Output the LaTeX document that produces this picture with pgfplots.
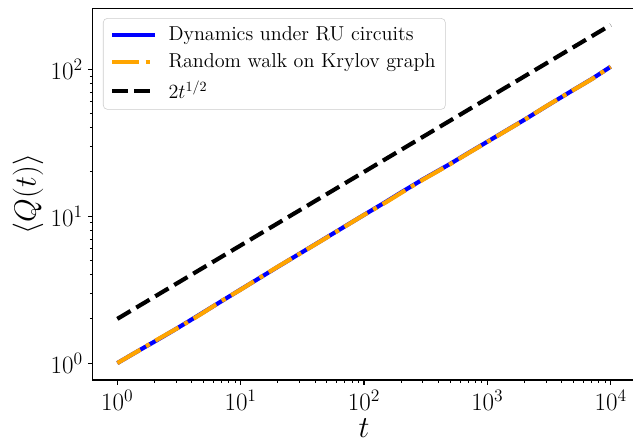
\RequirePackage{fix-cm}
\documentclass[border=0pt]{standalone}
\usepackage{pgfplots}
\pgfplotsset{compat=1.18}
\definecolor{mplblue}{rgb}{0,0,1}
\definecolor{mplorange}{rgb}{1,0.647,0}

\pgfplotstableread{
t Q
1 1.00
1.5 1.22
2 1.40
3 1.71
4 1.98
5 2.22
7 2.64
10 3.17
15 3.90
20 4.52
30 5.55
50 7.18
70 8.52
100 10.2
150 12.5
200 14.5
300 17.8
400 20.4
500 22.7
700 26.9
1000 32.1
1500 39.3
2000 45.3
3000 55.9
5000 72.4
7000 85.6
10000 104
}\circuit

\pgfplotstableread{
t Q
1 1.00
1.5 1.22
2 1.41
3 1.71
4 1.97
5 2.21
7 2.65
10 3.16
15 3.91
20 4.53
30 5.54
50 7.16
70 8.50
100 10.2
150 12.4
200 14.4
300 17.7
400 20.3
500 22.6
700 26.8
1000 32.0
1500 39.2
2000 45.2
3000 56.0
5000 72.3
7000 85.4
10000 104
}\walk

\pgfplotstableread{
t Q
1 2
10 6.325
100 20
1000 63.25
10000 200
}\guide

\begin{document}
\begin{tikzpicture}
\begin{axis}[
    at={(0,0)}, anchor=south west,
    scale only axis,
    width=390.7pt, height=267.8pt,
    xmode=log, ymode=log,
    xmin=0.631, xmax=15849,
    ymin=0.767, ymax=260.6,
    xtick={1,10,100,1000,10000},
    ytick={1,10,100},
    tick align=outside, tick pos=left,
    major tick length=3.5pt, minor tick length=2pt,
    every tick/.style={black, line width=0.8pt},
    every minor tick/.style={black, line width=0.6pt},
    axis line style={line width=0.8pt},
    tick label style={font=\fontsize{18}{20}\selectfont},
    xlabel={$t$}, ylabel={$\langle Q(t)\rangle$},
    label style={font=\fontsize{22}{24}\selectfont},
    xlabel style={at={(axis description cs:0.5,-0.129)}, anchor=center},
    ylabel style={at={(axis description cs:-0.119,0.5)}, anchor=center},
    legend cell align=left,
    legend image code/.code={\draw[#1] (0pt,0pt) -- (31pt,0pt);},
    legend style={at={(axis description cs:0.019,0.973)}, anchor=north west,
        draw=black!20, rounded corners=3pt, fill=white, fill opacity=0.8,
        text opacity=1, font=\fontsize{14.5}{17}\selectfont,
        inner xsep=5pt, inner ysep=4pt, row sep=4pt,
        /tikz/every odd column/.append style={column sep=6pt}},
]
\addplot[mplblue, line width=3pt] table[x=t, y=Q] {\circuit};
\addlegendentry{Dynamics under RU circuits}
\addplot[mplorange, line width=3pt, dash pattern=on 19.2pt off 4.8pt on 3pt off 4.8pt] table[x=t, y=Q] {\walk};
\addlegendentry{Random walk on Krylov graph}
\addplot[black, line width=3pt, dash pattern=on 11.1pt off 4.8pt] table[x=t, y=Q] {\guide};
\addlegendentry{$2t^{1/2}$}
\end{axis}
\pgfresetboundingbox
\path[use as bounding box] (-66.7pt,-45.4pt) rectangle (389.0pt,273.6pt);
\end{tikzpicture}
\end{document}
